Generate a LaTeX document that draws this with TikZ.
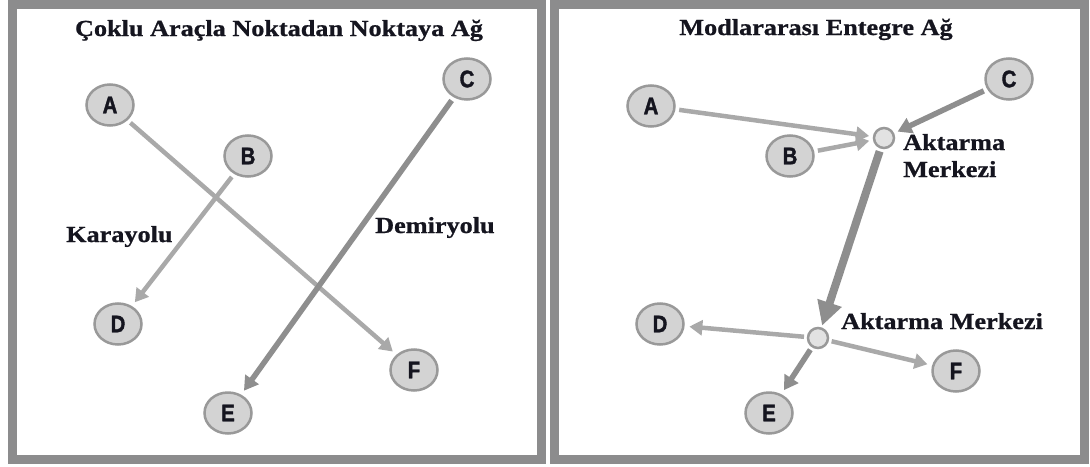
\documentclass[tikz,border=0pt]{standalone}
\usepackage{fontspec}
\setmainfont{Liberation Serif}[FakeStretch=1.14,BoldFeatures={FakeBold=0.8}]
\newfontfamily\letterfont{Liberation Sans}[FakeStretch=0.85,BoldFeatures={FakeBold=1.6}]
\usetikzlibrary{shapes.geometric,arrows.meta}

\definecolor{framegray}{HTML}{8C8C8D}
\definecolor{roadgray}{HTML}{A9A9A9}
\definecolor{railgray}{HTML}{8E8E8E}
\definecolor{stopfill}{HTML}{D3D3D3}
\definecolor{hubfill}{HTML}{E2E2E2}
\definecolor{stopedge}{HTML}{999999}
\definecolor{ink}{HTML}{15151F}

\begin{document}
\begin{tikzpicture}[x=1pt,y=-1pt]
    \tikzstyle{stop}=[ellipse,draw=stopedge,fill=stopfill,line width=2.5pt,minimum width=47pt,minimum height=41pt,inner sep=0pt,outer sep=3pt,text=ink,font=\letterfont\bfseries\fontsize{24}{24}\selectfont]
    \tikzstyle{hub}=[circle,draw=stopedge,fill=hubfill,line width=2.5pt,minimum size=20pt,inner sep=0pt,outer sep=2pt]
    \tikzstyle{caption}=[font=\bfseries\fontsize{23}{27}\selectfont,text=ink,inner sep=0pt,align=left]
    \tikzstyle{frame}=[draw=framegray,line width=9pt]

    \useasboundingbox (0,0) rectangle (1090,466);

    % the two panels
    \draw[frame] (12.5,4.5) rectangle (541,459);
    \draw[frame] (554.5,4.5) rectangle (1084.5,459);

    % point to point, one mode per link
    \node[caption,anchor=base] (titleL) at (279,36) {Çoklu Araçla Noktadan Noktaya Ağ};
    \node[stop] (lA) at (110,105) {A};
    \node[stop] (lB) at (248,156) {B};
    \node[stop] (lC) at (467,79) {C};
    \node[stop] (lD) at (118,324) {D};
    \node[stop] (lE) at (228,413) {E};
    \node[stop] (lF) at (414,370) {F};
    \node[caption,anchor=base west] (road) at (66,242) {Karayolu};
    \node[caption,anchor=base west] (rail) at (375,233) {Demiryolu};

    % intermodal, through two transfer hubs
    \node[caption,anchor=base] (titleR) at (816,35) {Modlararası Entegre Ağ};
    \node[stop] (rA) at (651,106) {A};
    \node[stop] (rB) at (790,156) {B};
    \node[stop] (rC) at (1009,79) {C};
    \node[stop] (rD) at (660,324) {D};
    \node[stop] (rE) at (769,413) {E};
    \node[stop] (rF) at (956,371) {F};
    \node[hub] (hubUp) at (884,138) {};
    \node[hub] (hubDown) at (818,338) {};
    \node[caption,anchor=base west] (hubUpText) at (903,177) {Aktarma\\Merkezi};
    \node[caption,anchor=base west] (hubDownText) at (841,329) {Aktarma Merkezi};

    \tikzstyle{road}=[draw=roadgray,line width=4.5pt,-{Triangle[length=13pt,width=15pt]},shorten <=2pt,shorten >=3pt]
    \tikzstyle{rail}=[draw=railgray,line width=5.5pt,-{Triangle[length=14pt,width=16pt]},shorten <=2pt,shorten >=3pt]
    \tikzstyle{trunk}=[draw=railgray,line width=8pt,-{Triangle[length=24pt,width=24pt]},shorten <=2pt,shorten >=1pt]

          \draw [road] (lA) -- (lF);
          \draw [road] (lB) -- (lD);
          \draw [rail] (lC) -- (lE);

          \draw [road] (rA) -- (hubUp);
          \draw [road] (rB) -- (hubUp);
          \draw [rail] (rC) -- (hubUp);
          \draw [trunk] (hubUp) -- (hubDown);
          \draw [road] (hubDown) -- (rD);
          \draw [rail] (hubDown) -- (rE);
          \draw [road] (hubDown) -- (rF);

\end{tikzpicture}
\end{document}
